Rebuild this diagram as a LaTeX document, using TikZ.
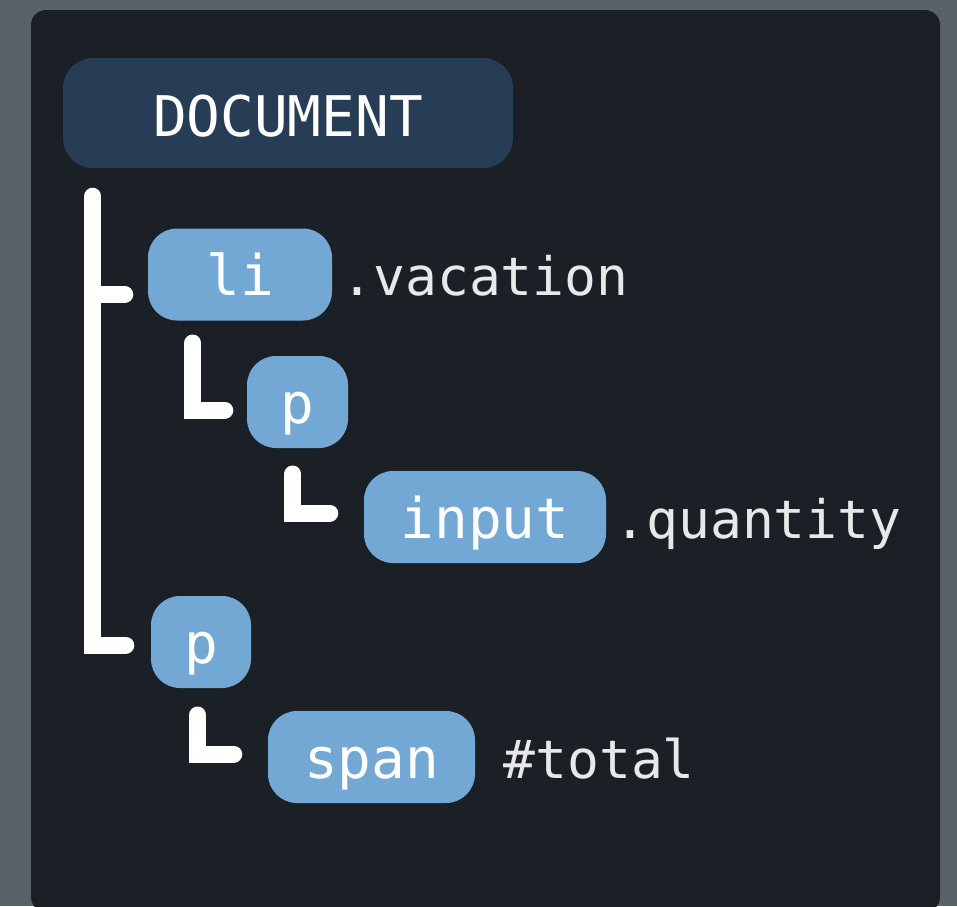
\documentclass[tikz,border=0pt]{standalone}
\usepackage{fontspec}
\setmonofont{DejaVu Sans Mono}
\usepackage{tikz}
\usepackage{xcolor}
\usetikzlibrary{calc,positioning}
\definecolor{bgstone}{RGB}{90,98,105}
\definecolor{panel}{RGB}{27,31,38}
\definecolor{docblue}{RGB}{38,61,85}
\definecolor{tagblue}{RGB}{116,168,212}
\definecolor{labelgray}{RGB}{232,232,232}

\begin{document}
\begin{tikzpicture}[x=1pt,y=-1pt,
    tag/.style={fill=tagblue,rounded corners=29pt,inner sep=0pt,minimum height=92pt,
      text=white,font=\ttfamily\fontsize{56}{58}\selectfont,text height=42pt,text depth=0pt},
    doctag/.style={tag,fill=docblue,rounded corners=30pt,minimum height=110pt,text height=46pt},
    lbl/.style={inner sep=0pt,text=labelgray,font=\ttfamily\fontsize{53}{55}\selectfont,anchor=base west},
    brush/.style={draw=white,line width=17pt,line cap=round,line join=miter}]
  \clip (0,0) rectangle (957,906);
  \fill[bgstone] (0,0) rectangle (957,906);
  \fill[panel,rounded corners=15pt] (31,10) rectangle (940,912);

  % tree nodes
  \node[doctag,minimum width=450pt] (doc) at (288,113) {DOCUMENT};
  \node[tag,minimum width=184pt] (li) at (240,274.5) {li};
  \node[tag,minimum width=101pt] (p1) at (297.5,402) {p};
  \node[tag,minimum width=242pt] (input) at (485,517) {input};
  \node[tag,minimum width=100pt] (p2) at (201,642) {p};
  \node[tag,minimum width=207pt] (span) at (371.5,757) {span};

  % selectors
  \node[lbl] (vacation) at ($(li.base east)+(9,0)$) {.vacation};
  \node[lbl] (quantity) at ($(input.base east)+(8,0)$) {.quantity};
  \node[lbl] (total) at ($(span.base east)+(28,0)$) {\#total};

  % brush connectors
  \draw[brush] ($(doc.south west)+(30,28)$) |- ($(p2.west)+(-25,3)$);
  \draw[brush] ($(li.west)+(-55,20)$) -- ($(li.west)+(-23,20)$);
  \draw[brush] ($(p1.west)+(-54,-59)$) |- ($(p1.west)+(-22,8)$);
  \draw[brush] ($(input.west)+(-71,-43)$) |- ($(input.west)+(-34,-4)$);
  \draw[brush] ($(span.west)+(-70,-42)$) |- ($(span.west)+(-34,-3)$);
\end{tikzpicture}
\end{document}
